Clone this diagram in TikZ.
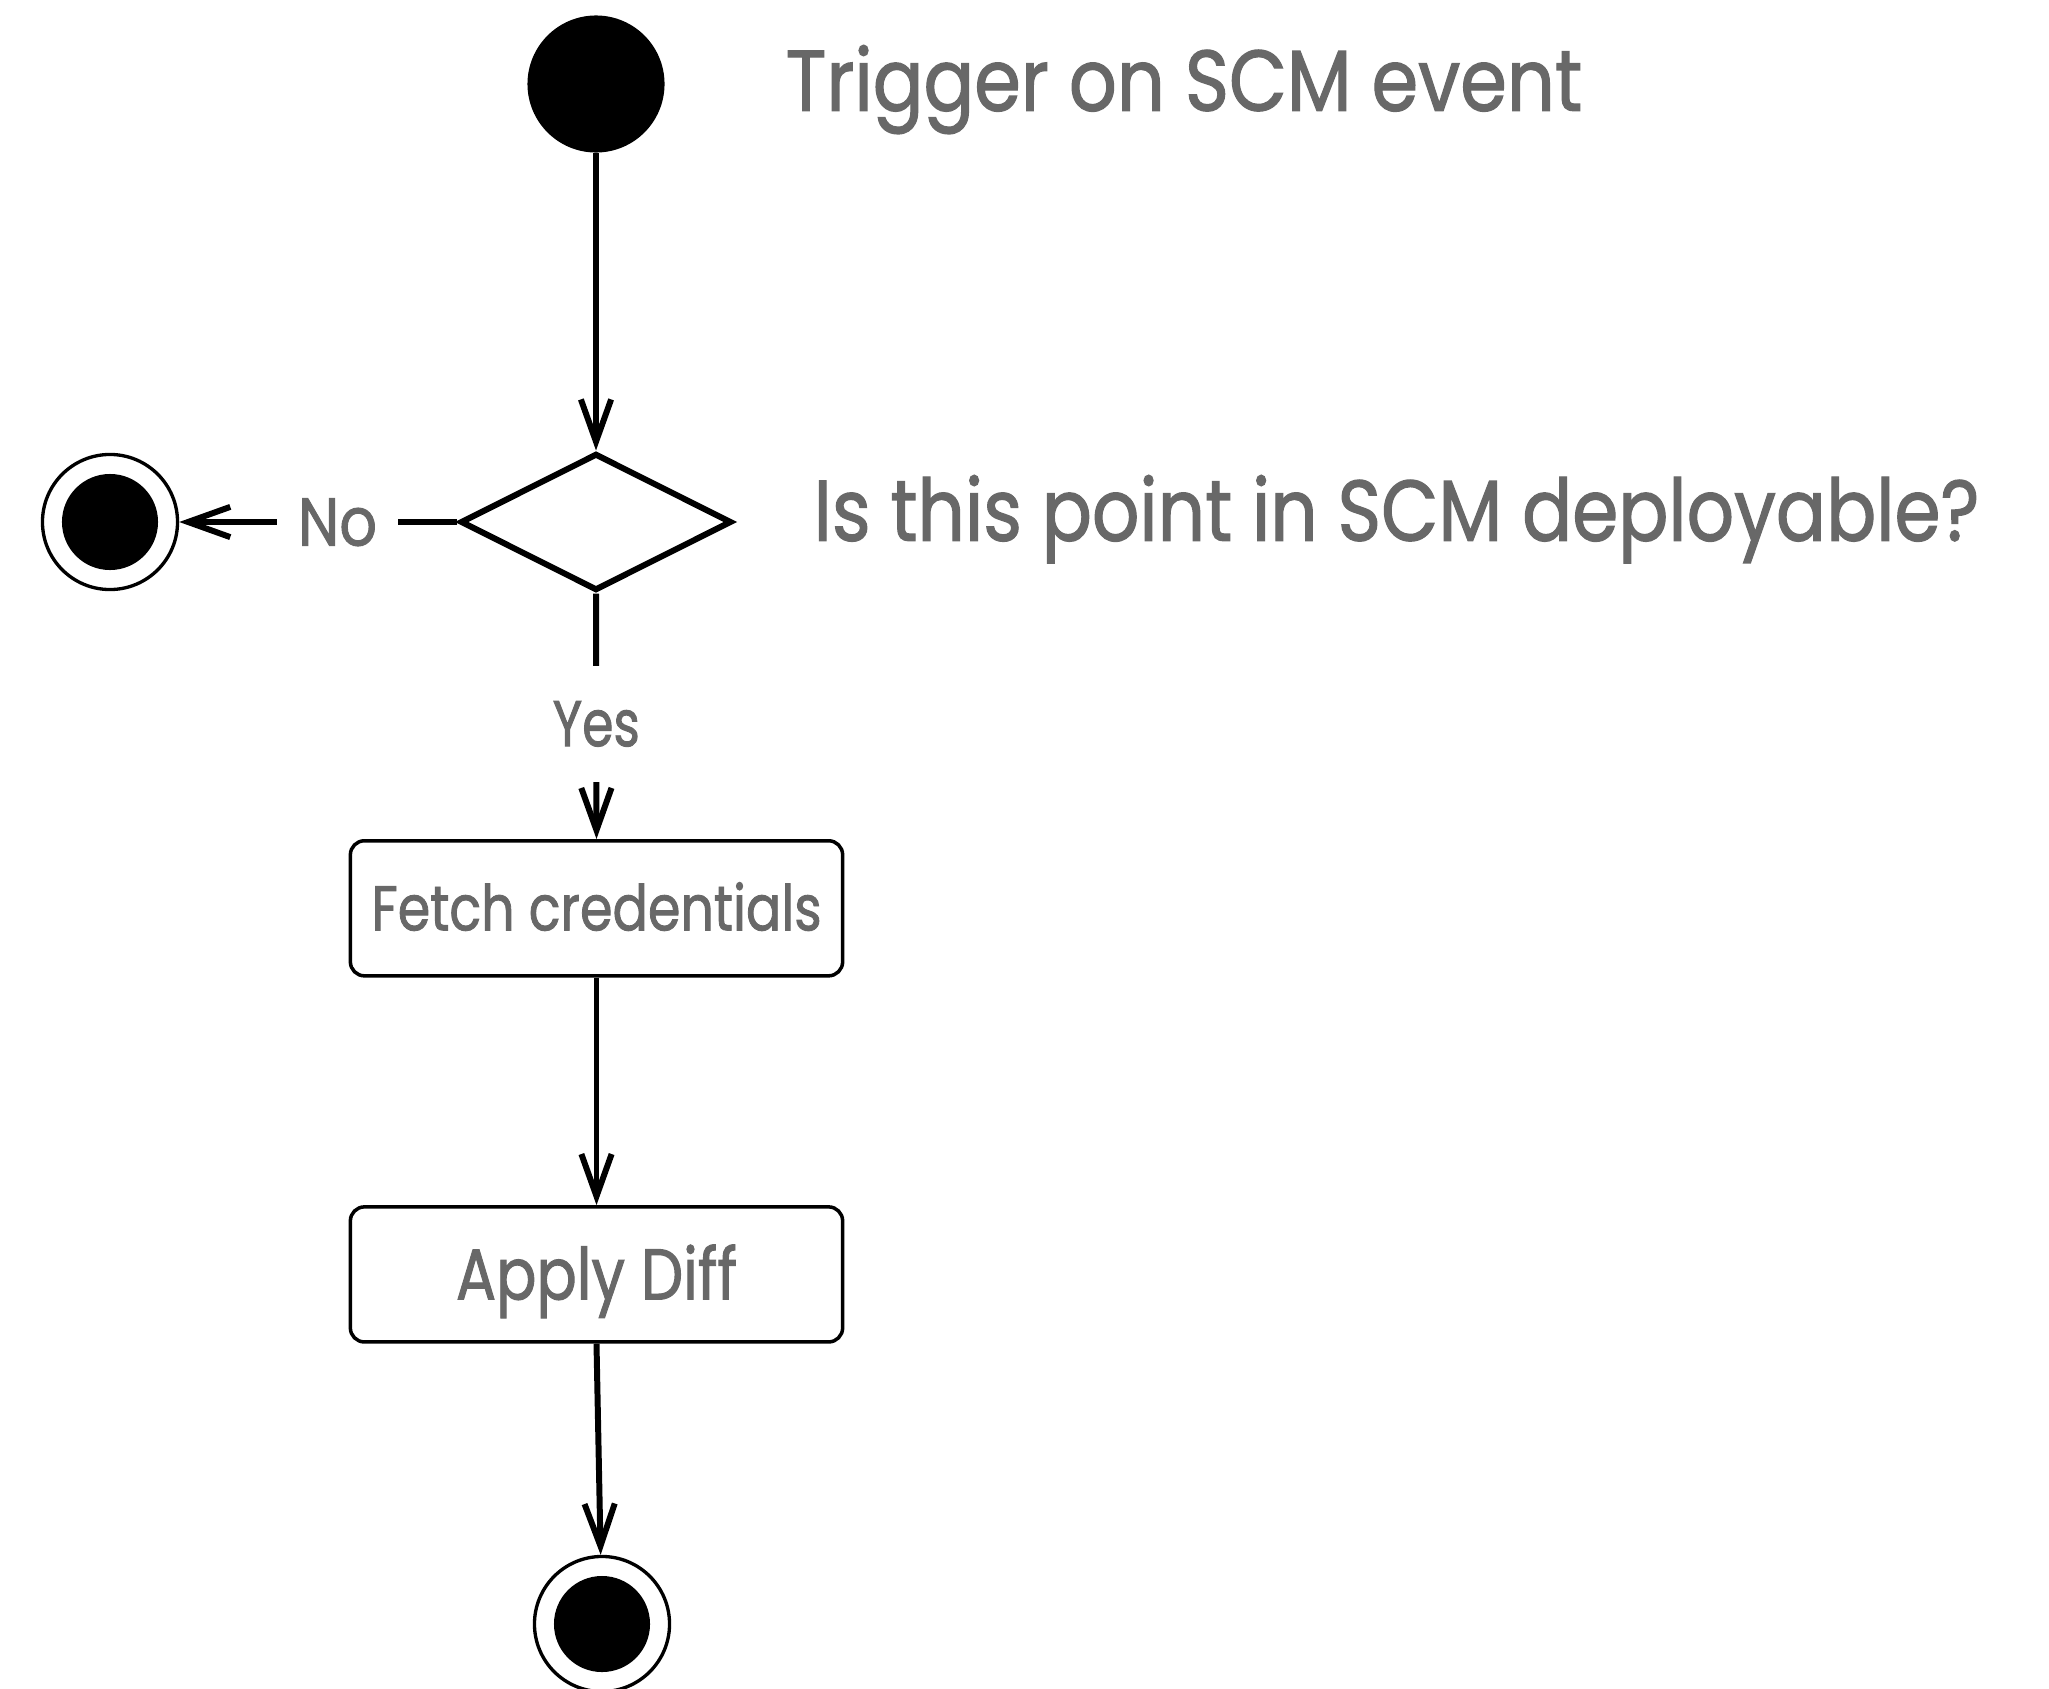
\documentclass[tikz,border=0pt]{standalone}
\usepackage{fontspec}
\usepackage{graphicx}
\newfontfamily\futura[FakeBold=1.5]{Poppins}
\usetikzlibrary{shapes.geometric,arrows.meta}
\definecolor{txtgray}{RGB}{104,104,104}
\newlength\natw
\newlength\nath
\newcommand\fittext[3]{%
  \settowidth\natw{\futura\fontsize{20}{24}\selectfont #3}%
  \settoheight\nath{\futura\fontsize{20}{24}\selectfont H}%
  \pgfmathsetmacro\fsx{#1*0.28453/\natw}%
  \pgfmathsetmacro\fsy{#2*0.28453/\nath}%
  \scalebox{\fsx}[\fsy]{\futura\fontsize{20}{24}\selectfont #3}}
\begin{document}
\begin{tikzpicture}[x=0.01cm,y=-0.01cm,
  conn/.style={line width=1.7pt,-{Straight Barb[length=12pt,width=8.6pt,line width=1.7pt]}},
  lbl/.style={text=txtgray,fill=white,inner sep=0pt,text depth=0pt},
  bigtxt/.style={text=txtgray,inner sep=0pt,anchor=base west},
  startstate/.style={circle,fill=black,inner sep=0pt,minimum size=1.37cm},
  endstate/.style={circle,draw,line width=0.95pt,inner sep=0pt,minimum size=1.35cm,
    path picture={\fill[black] (path picture bounding box.center) circle (0.48cm);}},
  decision/.style={diamond,draw,line width=1.7pt,inner sep=0pt,minimum width=2.71cm,minimum height=1.37cm},
  action/.style={rectangle,draw,rounded corners=4pt,line width=1pt,inner sep=0pt,
    minimum width=4.92cm,minimum height=1.35cm,text=txtgray,text depth=0pt}]
\useasboundingbox (0,0) rectangle (2049,1688);
\fill[white] (0,0) rectangle (2049,1688);
% nodes
\node[startstate] (start) at (596,84) {};
\node[decision] (dia) at (596,522) {};
\node[endstate] (endL) at (110,522) {};
\node[action,text height=0.44cm] (box1) at (596.5,908.3) {\fittext{450}{44}{Fetch credentials}};
\node[action,text height=0.5cm] (box2) at (596.5,1274.4) {\fittext{281}{50}{Apply Diff}};
\node[endstate] (endB) at (602,1624) {};
% texts
\node[bigtxt] (t1) at (785,110.7) {\fittext{796}{60}{Trigger on SCM event}};
\node[bigtxt] (t2) at (813,540.7) {\fittext{1165}{60}{Is this point in SCM deployable?}};
% connectors
\draw[conn] (start.south) -- (dia.north);
\draw[conn] (dia.west) -- node[lbl,pos=0.431,text height=0.47cm,minimum width=1.21cm] (no) {\fittext{79}{47}{No}} (endL);
\draw[conn] (dia.south) -- node[lbl,pos=0.53,text height=0.45cm,minimum height=1.16cm] (yes) {\fittext{87}{45}{Yes}} (box1.north);
\draw[conn] (box1.south) -- (box2.north);
\draw[conn] (box2.south) -- (endB);
\end{tikzpicture}
\end{document}
